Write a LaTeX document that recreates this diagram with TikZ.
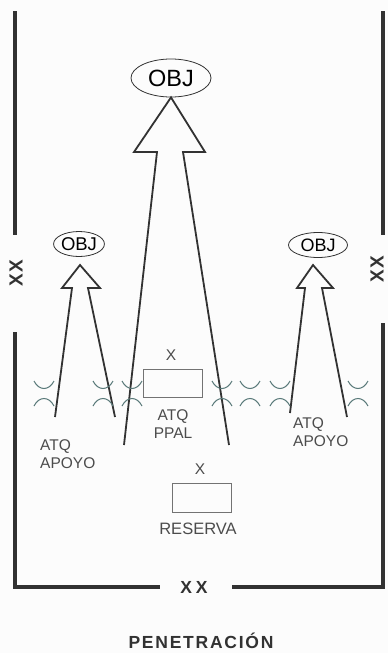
\documentclass[tikz,border=0pt]{standalone}
\usepackage{fontspec}
\setmainfont{Liberation Sans}
\newfontfamily\widefont[LetterSpace=10]{Liberation Sans}
\usetikzlibrary{shapes.geometric}

\definecolor{ink}{RGB}{50,50,50}
\definecolor{obst}{RGB}{90,122,122}

\begin{document}
\begin{tikzpicture}[x=1pt, y=-1pt,
  frame/.style={draw=ink, line width=3.2pt},
  axis/.style={draw=ink, line width=1.8pt, line join=miter},
  obj/.style={draw=ink, ellipse, line width=0.8pt, inner sep=0pt},
  unit/.style={draw=black!55, line width=0.9pt, minimum width=59pt, minimum height=28pt, inner sep=0pt},
  lbl/.style={text=black!70, font=\fontsize{15.5}{17.5}\selectfont, align=left},
  xx/.style={text=ink, font=\bfseries\fontsize{19}{19}\selectfont}
]
  \fill[black!1] (0,0) rectangle (388,653);
  \clip (0,0) rectangle (388,653);

  % frame of the zone
  \coordinate (tl) at (15,11);
  \coordinate (tr) at (383,11);
  \draw[frame] (tl) -- (15,235);
  \draw[frame] (15,332) -- (15,587) -- (160,587);
  \draw[frame] (tr) -- (383,235);
  \draw[frame] (383,323) -- (383,587) -- (232,587);
  \node[xx, rotate=90] (xxl) at (16,273) {X\hspace{1pt}X};
  \node[xx, rotate=90, inner sep=1pt] (xxr) at (377,269) {X\hspace{1pt}X};
  \node[xx, font=\bfseries\fontsize{17.5}{17.5}\selectfont] (xxb) at (194,587) {X\hspace{4pt}X};

  % objectives
  \node[obj, minimum width=80pt, minimum height=38pt, font=\fontsize{23.5}{23.5}\selectfont] (mobj) at (171,78) {OBJ};
  \node[obj, minimum width=48pt, minimum height=25pt, font=\fontsize{18.5}{18.5}\selectfont] (lobj) at (79,244) {OBJ};
  \node[obj, minimum width=59pt, minimum height=25pt, font=\fontsize{18}{18}\selectfont] (robj) at (318,245) {OBJ};

  % attack axes
  \draw[axis] (229,445) -- (183,152) -- (205,152) -- (mobj.south) -- (134,152) -- (157,152) -- (124,445);
  \draw[axis] (115,417) -- (88,288) -- (100,288) -- (80,265) -- (62,288) -- (72,288) -- (55,417);
  \draw[axis] (347,417) -- (322,288) -- (333,288) -- (313,265) -- (297,288) -- (305,288) -- (290,413);

  % obstacle line
  \foreach \ox in {44,103,132,222,250,280,358} {
    \draw[obst, line width=1pt] (\ox-10,381) .. controls (\ox-5,391) and (\ox+5,391) .. (\ox+10,381);
    \draw[obst, line width=1pt] (\ox-10,406) .. controls (\ox-5,396) and (\ox+5,396) .. (\ox+10,406);
  }

  % units
  \node[unit] (ppal) at (172.5,383) {};
  \node[lbl] (ppalx) at (171,355) {X};
  \node[lbl, align=center] (ppallbl) at (173,424) {ATQ\\PPAL};
  \node[unit, minimum height=29pt] (res) at (201.5,497.5) {};
  \node[lbl] (resx) at (200,469) {X};
  \node[lbl, font=\fontsize{16.5}{18}\selectfont] (reslbl) at (198,529) {RESERVA};
  \node[lbl, anchor=west, inner sep=0pt] (apl) at (40,454) {ATQ\\APOYO};
  \node[lbl, anchor=west, inner sep=0pt] (apr) at (293,432) {ATQ\\APOYO};

  \node[text=ink, font=\widefont\bfseries\fontsize{17.5}{17.5}\selectfont, anchor=base, inner sep=1pt] (title) at (201,648) {PENETRACIÓN};
\end{tikzpicture}
\end{document}
